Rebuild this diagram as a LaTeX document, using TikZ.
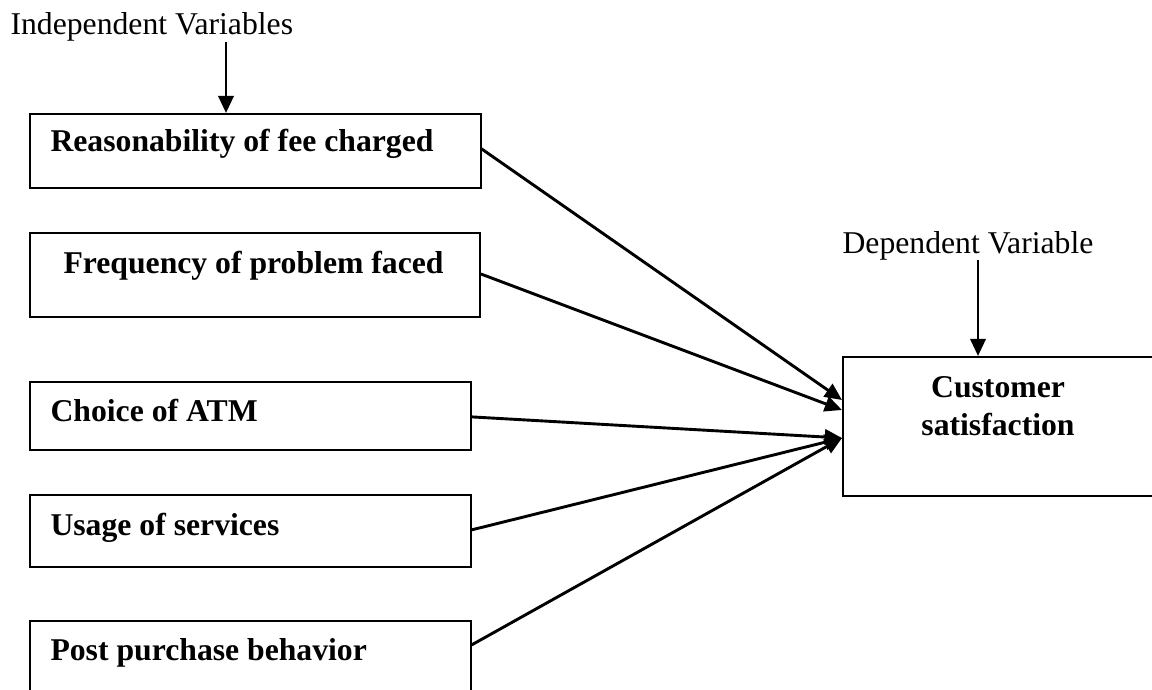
\documentclass[tikz,border=0pt]{standalone}
\usepackage{fontspec}
\setmainfont{Liberation Serif}
\usetikzlibrary{arrows.meta}
\newlength\pxu
\setlength\pxu{0.3774pt}
\tikzset{
  varbox/.style={draw, line width=0.75pt, rectangle, anchor=north west, inner sep=0pt},
  varname/.style={anchor=base west, inner sep=0pt, font=\fontsize{12pt}{14.3pt}\selectfont\bfseries},
  link/.style={-{Triangle[length=6.5pt,width=5.8pt]}, line width=1.1pt}
}

\begin{document}
\begin{tikzpicture}[x=0.01331cm, y=-0.01331cm, font=\fontsize{12pt}{14.3pt}\selectfont]
\useasboundingbox (0,0) rectangle (1152,689);
% independent side
\node[anchor=base west, inner sep=0pt] (iv) at (10,35) {Independent Variables};
\node[varbox, minimum width=452\pxu, minimum height=74\pxu] (fee) at (29,113) {};
\node[varbox, minimum width=451\pxu, minimum height=84\pxu] (freq) at (29,232) {};
\node[varbox, minimum width=442\pxu, minimum height=68\pxu] (atm) at (29,381) {};
\node[varbox, minimum width=442\pxu, minimum height=72\pxu] (usage) at (29,494) {};
\node[varbox, minimum width=442\pxu, minimum height=100\pxu] (post) at (29,620) {};
\node[varname] (feet) at (50,152) {Reasonability of fee charged};
\node[varname] (freqt) at (63,273) {Frequency of problem faced};
\node[varname] (atmt) at (50,421) {Choice of ATM};
\node[varname] (usaget) at (50,535) {Usage of services};
\node[varname] (postt) at (50,660) {Post purchase behavior};
% dependent side
\node[anchor=base west, inner sep=0pt] (dv) at (842,253) {Dependent Variable};
\node[varbox, minimum width=320\pxu, minimum height=139\pxu] (cust) at (842,356) {};
\node[varname, anchor=base, align=center] (custt) at (998,435) {Customer\\satisfaction};
\coordinate (in1) at (842,400);
\coordinate (in2) at (842,410);
\coordinate (in3) at (842,438);
\draw[link] (iv.south -| 226,0) -- (fee.north -| 226,0);
\draw[link] (dv.south -| 978,0) -- (cust.north -| 978,0);
\draw[link] ([yshift=2\pxu]fee.east) -- (in1);
\draw[link] ([yshift=1\pxu]freq.east) -- (in2);
\draw[link] ([yshift=-1\pxu]atm.east) -- (in3);
\draw[link] ([yshift=1\pxu]usage.east) -- (in3);
\draw[link] ([yshift=-25\pxu]post.north east) -- (in3);
\end{tikzpicture}
\end{document}
